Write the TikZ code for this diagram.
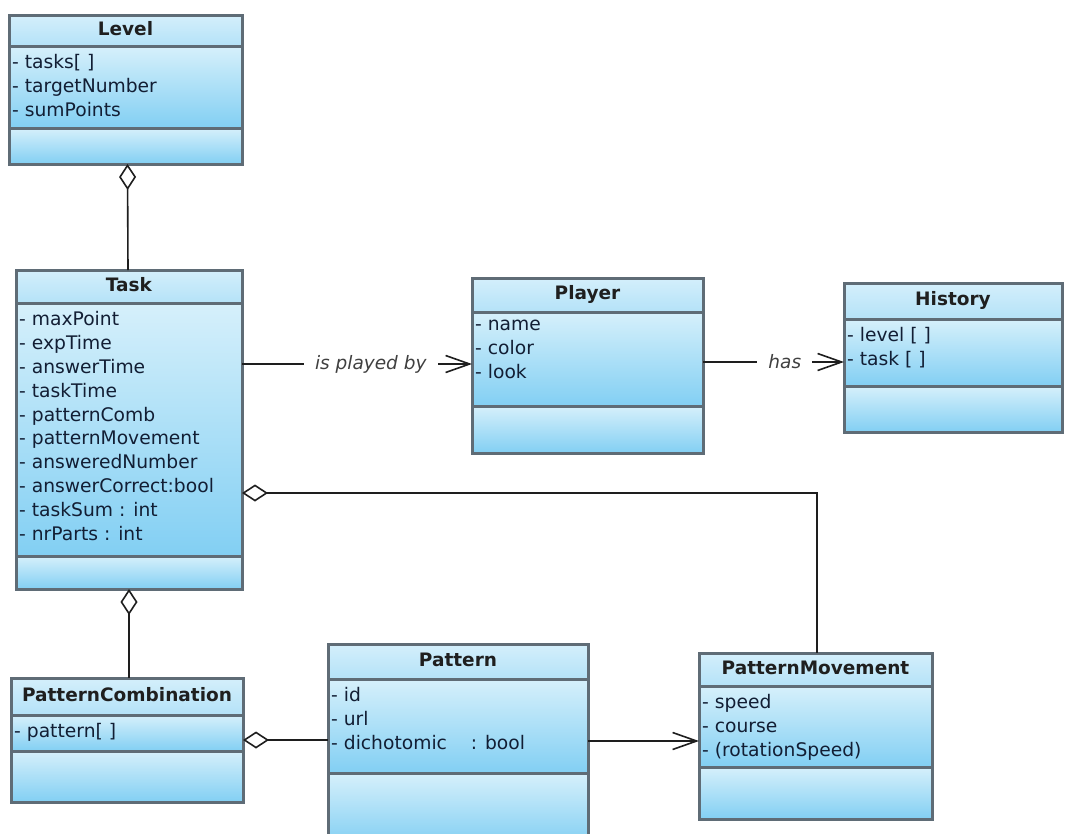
\documentclass[tikz,border=0pt]{standalone}
\usepackage{fontspec}
\setmainfont{DejaVu Sans}
\usetikzlibrary{arrows.meta}
\definecolor{bordc}{RGB}{95,108,118}
\definecolor{topc}{RGB}{214,240,251}
\definecolor{botc}{RGB}{130,207,243}
\definecolor{hdtop}{RGB}{212,239,251}
\definecolor{hdbot}{RGB}{180,226,248}
\definecolor{txtc}{RGB}{18,30,52}
\definecolor{linec}{RGB}{30,30,30}
\tikzset{
  comp/.style={anchor=north west, inner sep=0, outer sep=0, draw=none, top color=topc, bottom color=botc},
  hdcomp/.style={comp, top color=hdtop, bottom color=hdbot},
  border/.style={draw=bordc, line width=3pt},
  titletext/.style={font=\fontsize{18.5}{22}\selectfont\bfseries, text=black!88, inner sep=0, text height=13pt, text depth=4pt},
  attrtext/.style={font=\fontsize{18.7}{23.9}\selectfont, text=txtc, align=left, inner sep=0, anchor=north west},
  conn/.style={draw=linec, line width=1.6pt},
  agg/.style={conn, {Diamond[open, length=26pt, width=17pt, line width=1.6pt]}-},
  nav/.style={conn, -{Straight Barb[length=24pt, width=17pt, line width=1.6pt]}},
  lbl/.style={font=\fontsize{18.5}{22}\selectfont\itshape, text=black!75, fill=white, inner xsep=11pt, inner ysep=2pt},
}
\newcommand\umlclass[9]{%
  \pgfmathsetmacro\cw{#4-#2}%
  \pgfmathsetmacro\hh{#5-#3}%
  \pgfmathsetmacro\ah{#6-#5}%
  \pgfmathsetmacro\oh{#7-#6}%
  \node[hdcomp, minimum width=\cw pt, minimum height=\hh pt] (#1-h) at (#2,-#3) {};
  \node[comp, minimum width=\cw pt, minimum height=\ah pt] (#1-a) at (#2,-#5) {};
  \node[comp, minimum width=\cw pt, minimum height=\oh pt] (#1-o) at (#2,-#6) {};
  \node[titletext] (#1-t) at (#1-h.center) {#8};
  \node[attrtext] (#1-x) at ([xshift=3pt,yshift=-8pt]#1-a.north west) {#9};
  \draw[border] (#1-h.north west) rectangle (#1-o.south east);
  \draw[border] (#1-h.south west) -- (#1-h.south east);
  \draw[border] (#1-a.south west) -- (#1-a.south east);
}
\begin{document}
\begin{tikzpicture}[x=1pt,y=1pt]
\useasboundingbox (0,0) rectangle (1066,-833);
\fill[white] (0,0) rectangle (1066,-833);
\clip (0,0) rectangle (1066,-833);

\umlclass{level}{9}{15}{242}{46}{128}{164}{Level}{- tasks[ ]\\- targetNumber\\- sumPoints}
\umlclass{task}{16}{270}{242}{303}{556}{589}{Task}{- maxPoint\\- expTime\\- answerTime\\- taskTime\\- patternComb\\- patternMovement\\- answeredNumber\\- answerCorrect:bool\\- taskSum : int\\- nrParts : int}
\umlclass{player}{472}{278}{703}{312}{406}{453}{Player}{- name\\- color\\- look}
\umlclass{history}{844}{283}{1062}{319}{386}{432}{History}{- level [ ]\\- task [ ]}
\umlclass{pc}{11}{678}{243}{715}{751}{802}{PatternCombination}{- pattern[ ]}
\umlclass{pat}{328}{644}{588}{679}{773}{845}{Pattern}{- id\\- url\\- dichotomic\ \ \ \ : bool}
\umlclass{pm}{699}{653}{932}{686}{767}{819}{PatternMovement}{- speed\\- course\\- (rotationSpeed)}

% connectors
\draw[agg] ([xshift=2pt]level-o.south) -- ([xshift=-1pt]task-h.north);
\coordinate (pp) at ([yshift=-5pt]player-a.west);
\draw[nav] (task-a.east |- pp) -- node[lbl, pos=0.56] {is played by} (pp);
\coordinate (hh) at ([yshift=-9.5pt]history-a.west);
\draw[nav] (player-a.east |- hh) -- node[lbl, pos=0.58] {has} (hh);
\draw[agg] (task-o.south) -- (task-o.south |- pc-h.north);
\coordinate (pcp) at ([yshift=-7pt]pc-a.east);
\draw[agg] (pcp) -- (pat-a.west |- pcp);
\coordinate (pmp) at ([yshift=-14.5pt]pm-a.west);
\draw[nav] (pat-a.east |- pmp) -- (pmp);
\coordinate (aggy) at (0,-493);
\draw[agg] (task-a.east |- aggy) -| ([xshift=1.5pt]pm-h.north);
\end{tikzpicture}
\end{document}
